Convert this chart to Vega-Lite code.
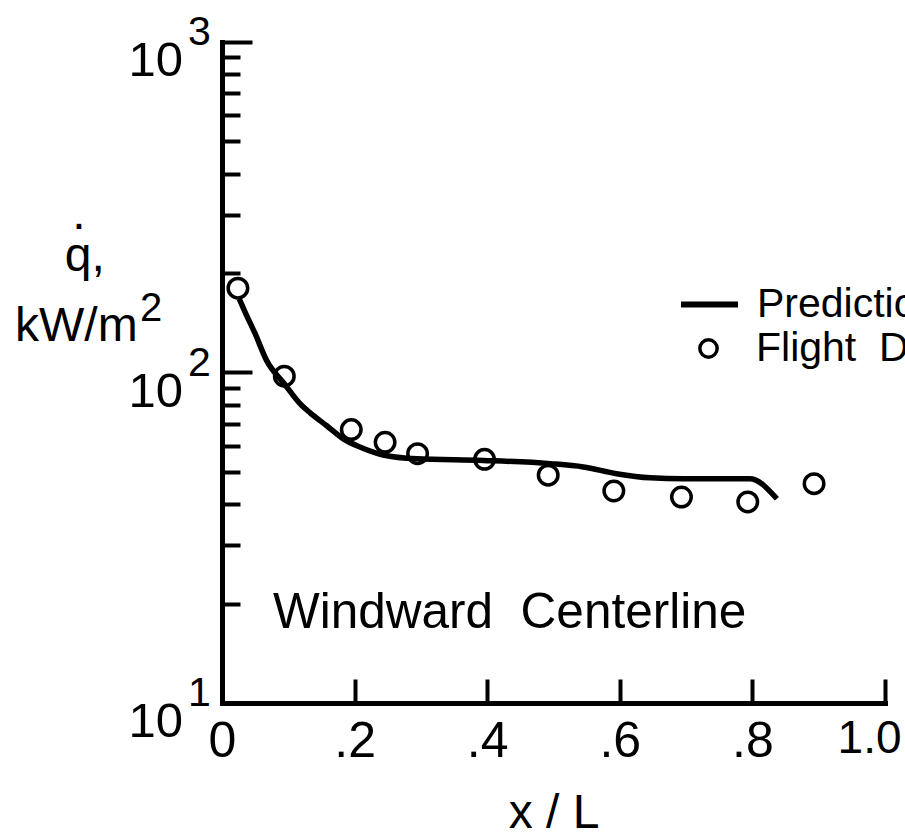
{
  "$schema": "https://vega.github.io/schema/vega-lite/v6.json",
  "width": 663,
  "height": 661,
  "autosize": {"type": "none"},
  "padding": {"left": 222, "top": 42, "right": 20, "bottom": 137},
  "background": "white",
  "config": {
    "font": "Liberation Sans",
    "view": {"stroke": null},
    "axis": {"grid": false}
  },
  "datasets": {
    "prediction": [
      {"xL": 0.026, "q": 167},
      {"xL": 0.035, "q": 152},
      {"xL": 0.05, "q": 131},
      {"xL": 0.067, "q": 109},
      {"xL": 0.094, "q": 92.5},
      {"xL": 0.118, "q": 80.4},
      {"xL": 0.133, "q": 75.5},
      {"xL": 0.158, "q": 69},
      {"xL": 0.183, "q": 63},
      {"xL": 0.208, "q": 59.5},
      {"xL": 0.243, "q": 56.3},
      {"xL": 0.294, "q": 54.8},
      {"xL": 0.394, "q": 54.2},
      {"xL": 0.495, "q": 53.0},
      {"xL": 0.545, "q": 51.8},
      {"xL": 0.595, "q": 49.4},
      {"xL": 0.646, "q": 48.0},
      {"xL": 0.696, "q": 47.7},
      {"xL": 0.796, "q": 47.7},
      {"xL": 0.837, "q": 41.5}
    ],
    "flight": [
      {"xL": 0.024, "q": 180},
      {"xL": 0.094, "q": 97.5},
      {"xL": 0.195, "q": 67.2},
      {"xL": 0.246, "q": 61.5},
      {"xL": 0.295, "q": 56.8},
      {"xL": 0.396, "q": 54.6},
      {"xL": 0.492, "q": 48.9},
      {"xL": 0.591, "q": 43.8},
      {"xL": 0.693, "q": 42.0},
      {"xL": 0.793, "q": 40.6},
      {"xL": 0.893, "q": 46.1}
    ],
    "decades": [
      {"q": 10, "exp": "1"},
      {"q": 100, "exp": "2"},
      {"q": 1000, "exp": "3"}
    ],
    "single": [{}]
  },
  "layer": [
    {
      "data": {"name": "prediction"},
      "mark": {"type": "line", "strokeWidth": 5.5, "interpolate": "monotone"},
      "encoding": {
        "x": {
          "field": "xL",
          "type": "quantitative",
          "title": "x / L",
          "scale": {"domain": [0, 1], "nice": false, "zero": false},
          "axis": {
            "values": [0, 0.2, 0.4, 0.6, 0.8, 1],
            "labelExpr": "datum.value == 0 ? '0' : (datum.value == 1 ? '1.0' : replace(format(datum.value, '.1f'), '0.', '.'))",
            "labelFont": "Liberation Sans",
            "labelFontSize": {"condition": {"test": "datum.value == 1", "value": 46}, "value": 50},
            "labelAlign": {"condition": {"test": "datum.value == 1", "value": "right"}, "value": "center"},
            "labelOffset": {"condition": {"test": "datum.value == 1", "value": 16}, "value": 0},
            "labelColor": "black",
            "labelPadding": 37,
            "labelFlush": false,
            "labelOverlap": false,
            "tickSize": -24,
            "tickWidth": 4,
            "tickColor": "black",
            "domainWidth": 5,
            "domainColor": "black",
            "domainCap": "square",
            "titleFont": "Liberation Sans",
            "titleFontSize": 48,
            "titleFontWeight": "normal",
            "titleColor": "black",
            "titlePadding": 23
          }
        },
        "y": {
          "field": "q",
          "type": "quantitative",
          "title": null,
          "scale": {"type": "log", "domain": [10, 1000], "nice": false},
          "axis": {
            "values": [10, 20, 30, 40, 50, 60, 70, 80, 90, 100, 200, 300, 400, 500, 600, 700, 800, 900, 1000],
            "labels": false,
            "tickSize": {
              "condition": {"test": "datum.value == 10 || datum.value == 100 || datum.value == 1000", "value": -30},
              "value": -18
            },
            "tickWidth": 4,
            "tickColor": "black",
            "domainWidth": 5,
            "domainColor": "black",
            "domainCap": "square"
          }
        },
        "color": {
          "datum": "Prediction",
          "type": "nominal",
          "scale": {"range": ["black"]},
          "legend": {
            "orient": "none",
            "legendX": 456,
            "legendY": 231,
            "title": null,
            "padding": 0,
            "offset": 0,
            "labelFont": "Liberation Sans",
            "labelFontSize": 41,
            "labelColor": "black",
            "labelOffset": 16,
            "labelLimit": 0,
            "symbolType": "stroke",
            "symbolSize": 3249,
            "symbolStrokeWidth": 6,
            "symbolStrokeColor": "black"
          }
        }
      }
    },
    {
      "data": {"name": "flight"},
      "mark": {"type": "point", "filled": false, "color": "black", "strokeWidth": 3.5, "size": 380, "opacity": 1},
      "encoding": {
        "x": {"field": "xL", "type": "quantitative", "title": "x / L"},
        "y": {"field": "q", "type": "quantitative", "title": null},
        "shape": {
          "datum": "Flight Data",
          "type": "nominal",
          "scale": {"range": ["circle"]},
          "legend": {
            "orient": "none",
            "legendX": 466,
            "legendY": 286,
            "title": null,
            "padding": 0,
            "offset": 0,
            "labelFont": "Liberation Sans",
            "labelFontSize": 41,
            "labelColor": "black",
            "labelOffset": 27,
            "labelLimit": 0,
            "labelExpr": "'Flight\u00a0 Data'",
            "symbolSize": 300,
            "symbolStrokeWidth": 3.5,
            "symbolStrokeColor": "black",
            "symbolFillColor": "transparent",
            "symbolOpacity": 1
          }
        }
      }
    },
    {
      "data": {"name": "decades"},
      "mark": {"type": "text", "align": "right", "baseline": "alphabetic", "dx": -39, "dy": 34, "fontSize": 49, "color": "black"},
      "encoding": {
        "x": {"datum": 0, "type": "quantitative", "title": "x / L"},
        "y": {"field": "q", "type": "quantitative", "title": null},
        "text": {"value": "10"}
      }
    },
    {
      "data": {"name": "decades"},
      "mark": {"type": "text", "align": "left", "baseline": "alphabetic", "dx": -34, "dy": 3, "fontSize": 41, "color": "black"},
      "encoding": {
        "x": {"datum": 0, "type": "quantitative", "title": "x / L"},
        "y": {"field": "q", "type": "quantitative", "title": null},
        "text": {"field": "exp"}
      }
    },
    {
      "data": {"name": "single"},
      "mark": {"type": "text", "align": "left", "baseline": "alphabetic", "fontSize": 49.5, "color": "black"},
      "encoding": {
        "x": {"datum": 0.077, "type": "quantitative", "title": "x / L"},
        "y": {"datum": 16.9, "type": "quantitative", "title": null},
        "text": {"value": "Windward\u00a0 Centerline"}
      }
    },
    {
      "data": {"name": "single"},
      "mark": {"type": "text", "align": "left", "baseline": "alphabetic", "fontSize": 48, "color": "black"},
      "encoding": {
        "x": {"datum": -0.237, "type": "quantitative", "title": "x / L"},
        "y": {"datum": 203, "type": "quantitative", "title": null},
        "text": {"value": "q,"}
      }
    },
    {
      "data": {"name": "single"},
      "mark": {"type": "text", "align": "center", "baseline": "alphabetic", "fontSize": 48, "color": "black"},
      "encoding": {
        "x": {"datum": -0.2157, "type": "quantitative", "title": "x / L"},
        "y": {"datum": 272, "type": "quantitative", "title": null},
        "text": {"value": "."}
      }
    },
    {
      "data": {"name": "single"},
      "mark": {"type": "text", "align": "left", "baseline": "alphabetic", "fontSize": 48, "color": "black"},
      "encoding": {
        "x": {"datum": -0.3122, "type": "quantitative", "title": "x / L"},
        "y": {"datum": 124.9, "type": "quantitative", "title": null},
        "text": {"value": "kW/m"}
      }
    },
    {
      "data": {"name": "single"},
      "mark": {"type": "text", "align": "left", "baseline": "alphabetic", "fontSize": 40, "color": "black"},
      "encoding": {
        "x": {"datum": -0.1237, "type": "quantitative", "title": "x / L"},
        "y": {"datum": 143.6, "type": "quantitative", "title": null},
        "text": {"value": "2"}
      }
    }
  ]
}
